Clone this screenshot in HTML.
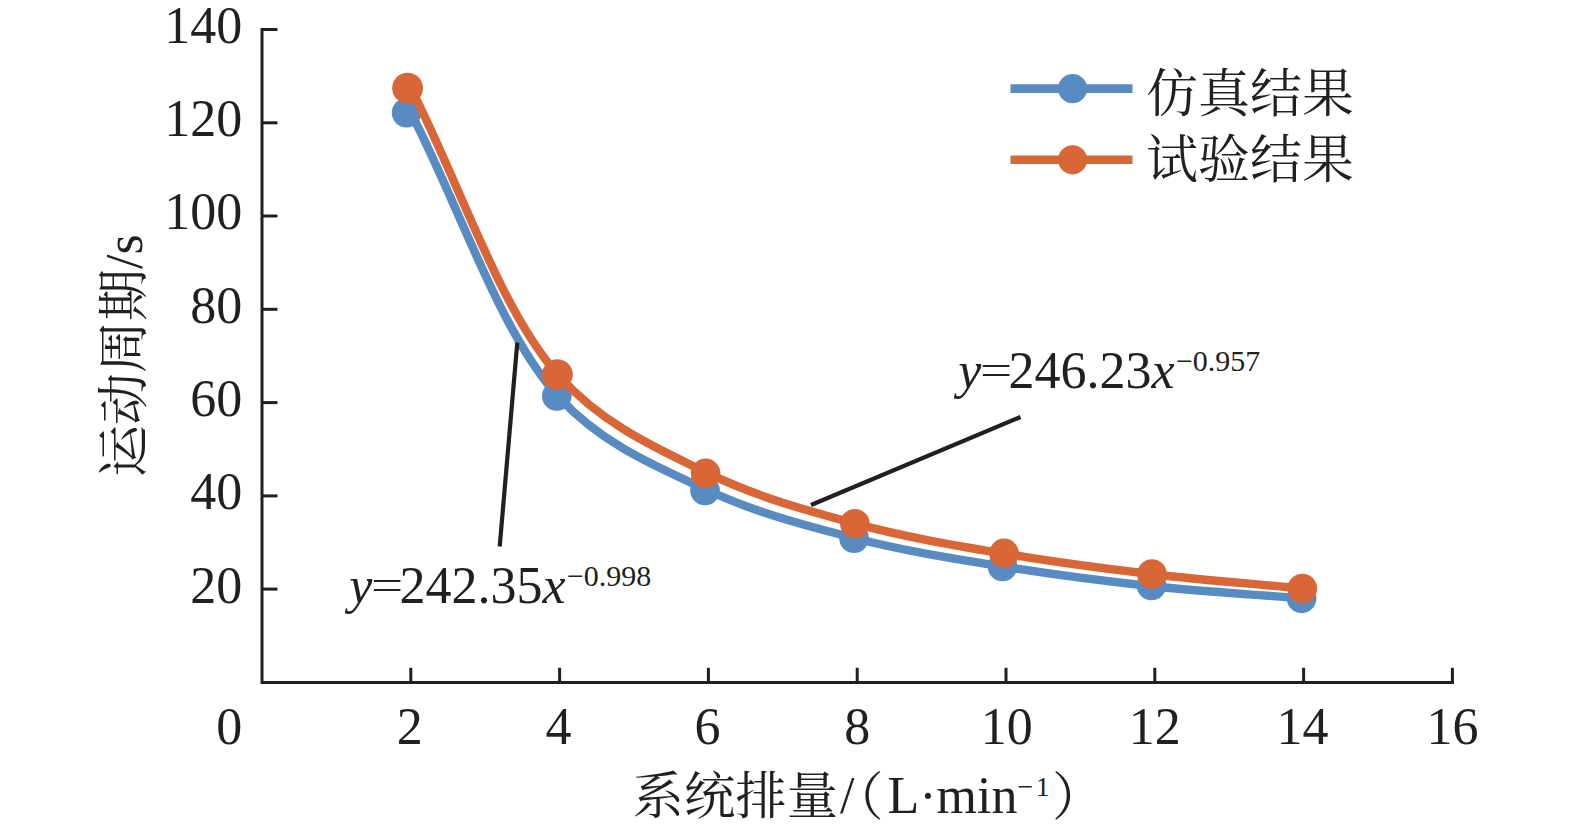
<!DOCTYPE html>
<html lang="zh">
<head>
<meta charset="utf-8">
<title>运动周期 - 系统排量</title>
<style>
html,body{margin:0;padding:0;background:#fff;}
body{width:1575px;height:829px;overflow:hidden;}
svg{display:block;}
text{font-family:"Liberation Serif","Noto Serif CJK SC",serif;font-size:52px;fill:#231f20;}
.cjk{font-family:"Noto Serif CJK SC","Liberation Serif",serif;}
.it{font-style:italic;}
.sup{font-size:30px;}
</style>
</head>
<body>
<svg width="1575" height="829" viewBox="0 0 1575 829">
<rect width="1575" height="829" fill="#fff"/>

<g stroke="#231f20" stroke-width="3.0" fill="none" stroke-linecap="butt">
<path d="M262.0 28 V682.4 H1454"/>
<path d="M262.0 589.1 H277.5"/>
<path d="M262.0 495.9 H277.5"/>
<path d="M262.0 402.6 H277.5"/>
<path d="M262.0 309.3 H277.5"/>
<path d="M262.0 216.0 H277.5"/>
<path d="M262.0 122.8 H277.5"/>
<path d="M262.0 29.5 H277.5"/>
<path d="M410.8 682.4 V667.8"/>
<path d="M559.6 682.4 V667.8"/>
<path d="M708.4 682.4 V667.8"/>
<path d="M857.2 682.4 V667.8"/>
<path d="M1006.0 682.4 V667.8"/>
<path d="M1154.8 682.4 V667.8"/>
<path d="M1303.6 682.4 V667.8"/>
<path d="M1452.4 682.4 V667.8"/>
</g>
<text x="242.3" y="602.5" text-anchor="end">20</text>
<text x="242.3" y="509.3" text-anchor="end">40</text>
<text x="242.3" y="416.0" text-anchor="end">60</text>
<text x="242.3" y="322.7" text-anchor="end">80</text>
<text x="242.3" y="229.4" text-anchor="end">100</text>
<text x="242.3" y="136.2" text-anchor="end">120</text>
<text x="242.3" y="42.9" text-anchor="end">140</text>
<text x="242.3" y="744" text-anchor="end">0</text>
<text x="409.8" y="744" text-anchor="middle">2</text>
<text x="558.6" y="744" text-anchor="middle">4</text>
<text x="707.4" y="744" text-anchor="middle">6</text>
<text x="857.2" y="744" text-anchor="middle">8</text>
<text x="1006.8" y="744" text-anchor="middle">10</text>
<text x="1154.8" y="744" text-anchor="middle">12</text>
<text x="1302.6" y="744" text-anchor="middle">14</text>
<text x="1452.4" y="744" text-anchor="middle">16</text>
<path d="M410.8 112.8 C460.3 207.8 499.8 333.4 559.5 397.8 C603.6 445.4 657.2 466.7 708.2 490.5 C756.5 513.0 807.0 526.0 857.0 538.8 C906.2 551.4 956.1 559.0 1005.8 567.0 C1055.2 574.9 1104.9 581.3 1154.5 586.5 C1204.0 591.7 1253.7 594.4 1303.2 598.4" fill="none" stroke="#598bc3" stroke-width="8.4" stroke-linecap="round" stroke-linejoin="round"/>
<circle cx="406.6" cy="112.8" r="14.8" fill="#598bc3"/>
<circle cx="556.8" cy="396.0" r="14.8" fill="#598bc3"/>
<circle cx="705.0" cy="490.5" r="14.8" fill="#598bc3"/>
<circle cx="854.0" cy="538.3" r="14.8" fill="#598bc3"/>
<circle cx="1002.5" cy="566.5" r="14.8" fill="#598bc3"/>
<circle cx="1151.5" cy="585.5" r="14.8" fill="#598bc3"/>
<circle cx="1301.6" cy="598.4" r="14.8" fill="#598bc3"/>
<path d="M410.8 88.2 C460.3 184.3 499.9 310.5 559.5 376.5 C603.6 425.3 657.1 448.5 708.2 473.4 C756.4 496.8 807.0 510.6 857.0 524.1 C906.2 537.3 956.0 545.5 1005.8 553.9 C1055.2 562.3 1104.9 568.7 1154.5 574.5 C1204.0 580.3 1253.7 583.8 1303.2 588.5" fill="none" stroke="#d96636" stroke-width="8.4" stroke-linecap="round" stroke-linejoin="round"/>
<circle cx="407.6" cy="88.2" r="15.4" fill="#d96636"/>
<circle cx="557.4" cy="374.6" r="15.4" fill="#d96636"/>
<circle cx="705.6" cy="473.4" r="14.8" fill="#d96636"/>
<circle cx="854.9" cy="523.8" r="14.8" fill="#d96636"/>
<circle cx="1004.1" cy="553.4" r="14.8" fill="#d96636"/>
<circle cx="1152.0" cy="574.0" r="14.8" fill="#d96636"/>
<circle cx="1302.3" cy="588.5" r="14.8" fill="#d96636"/>
<path d="M517.3 342.5 L499.7 546.5" stroke="#231f20" stroke-width="4.2" fill="none"/>
<path d="M811 505 L1020.5 417" stroke="#231f20" stroke-width="4.2" fill="none"/>
<text class="it" x="349.2" y="603.0">y</text>
<text transform="translate(370.9 599.1) scale(1.1 0.82)">=</text>
<text x="399.6" y="603.0">242.35<tspan class="it">x</tspan><tspan class="sup" dx="1.2" dy="-17.3">−0.998</tspan></text>
<text class="it" x="958.2" y="388.0">y</text>
<text transform="translate(979.9 384.1) scale(1.1 0.82)">=</text>
<text x="1008.6" y="388.0">246.23<tspan class="it">x</tspan><tspan class="sup" dx="1.2" dy="-17.3">−0.957</tspan></text>
<path d="M1010.5 88.6 H1132.5" stroke="#598bc3" stroke-width="8.6" fill="none"/>
<circle cx="1072.6" cy="88.6" r="14.6" fill="#598bc3"/>
<path d="M1010.5 159.8 H1132.5" stroke="#d96636" stroke-width="8.6" fill="none"/>
<circle cx="1072.6" cy="159.8" r="14.6" fill="#d96636"/>
<text class="cjk" x="1146" y="112.2">仿真结果</text>
<text class="cjk" x="1146" y="177.5">试验结果</text>
<text class="cjk" x="632.5" y="813.5" style="font-size:51.4px">系统排量</text>
<text x="840" y="812.5">/</text>
<text class="cjk" x="831.5" y="814.5">（</text>
<text x="887.5" y="812.5">L·min<tspan class="sup" dy="-16.5" style="font-size:28px">−<tspan dx="2.5">1</tspan></tspan></text>
<text class="cjk" x="1052" y="814.5">）</text>
<text class="cjk" transform="translate(141.6 477) rotate(-90)">运动周期<tspan style="font-family:'Liberation Serif',serif">/s</tspan></text>
</svg>
</body>
</html>
